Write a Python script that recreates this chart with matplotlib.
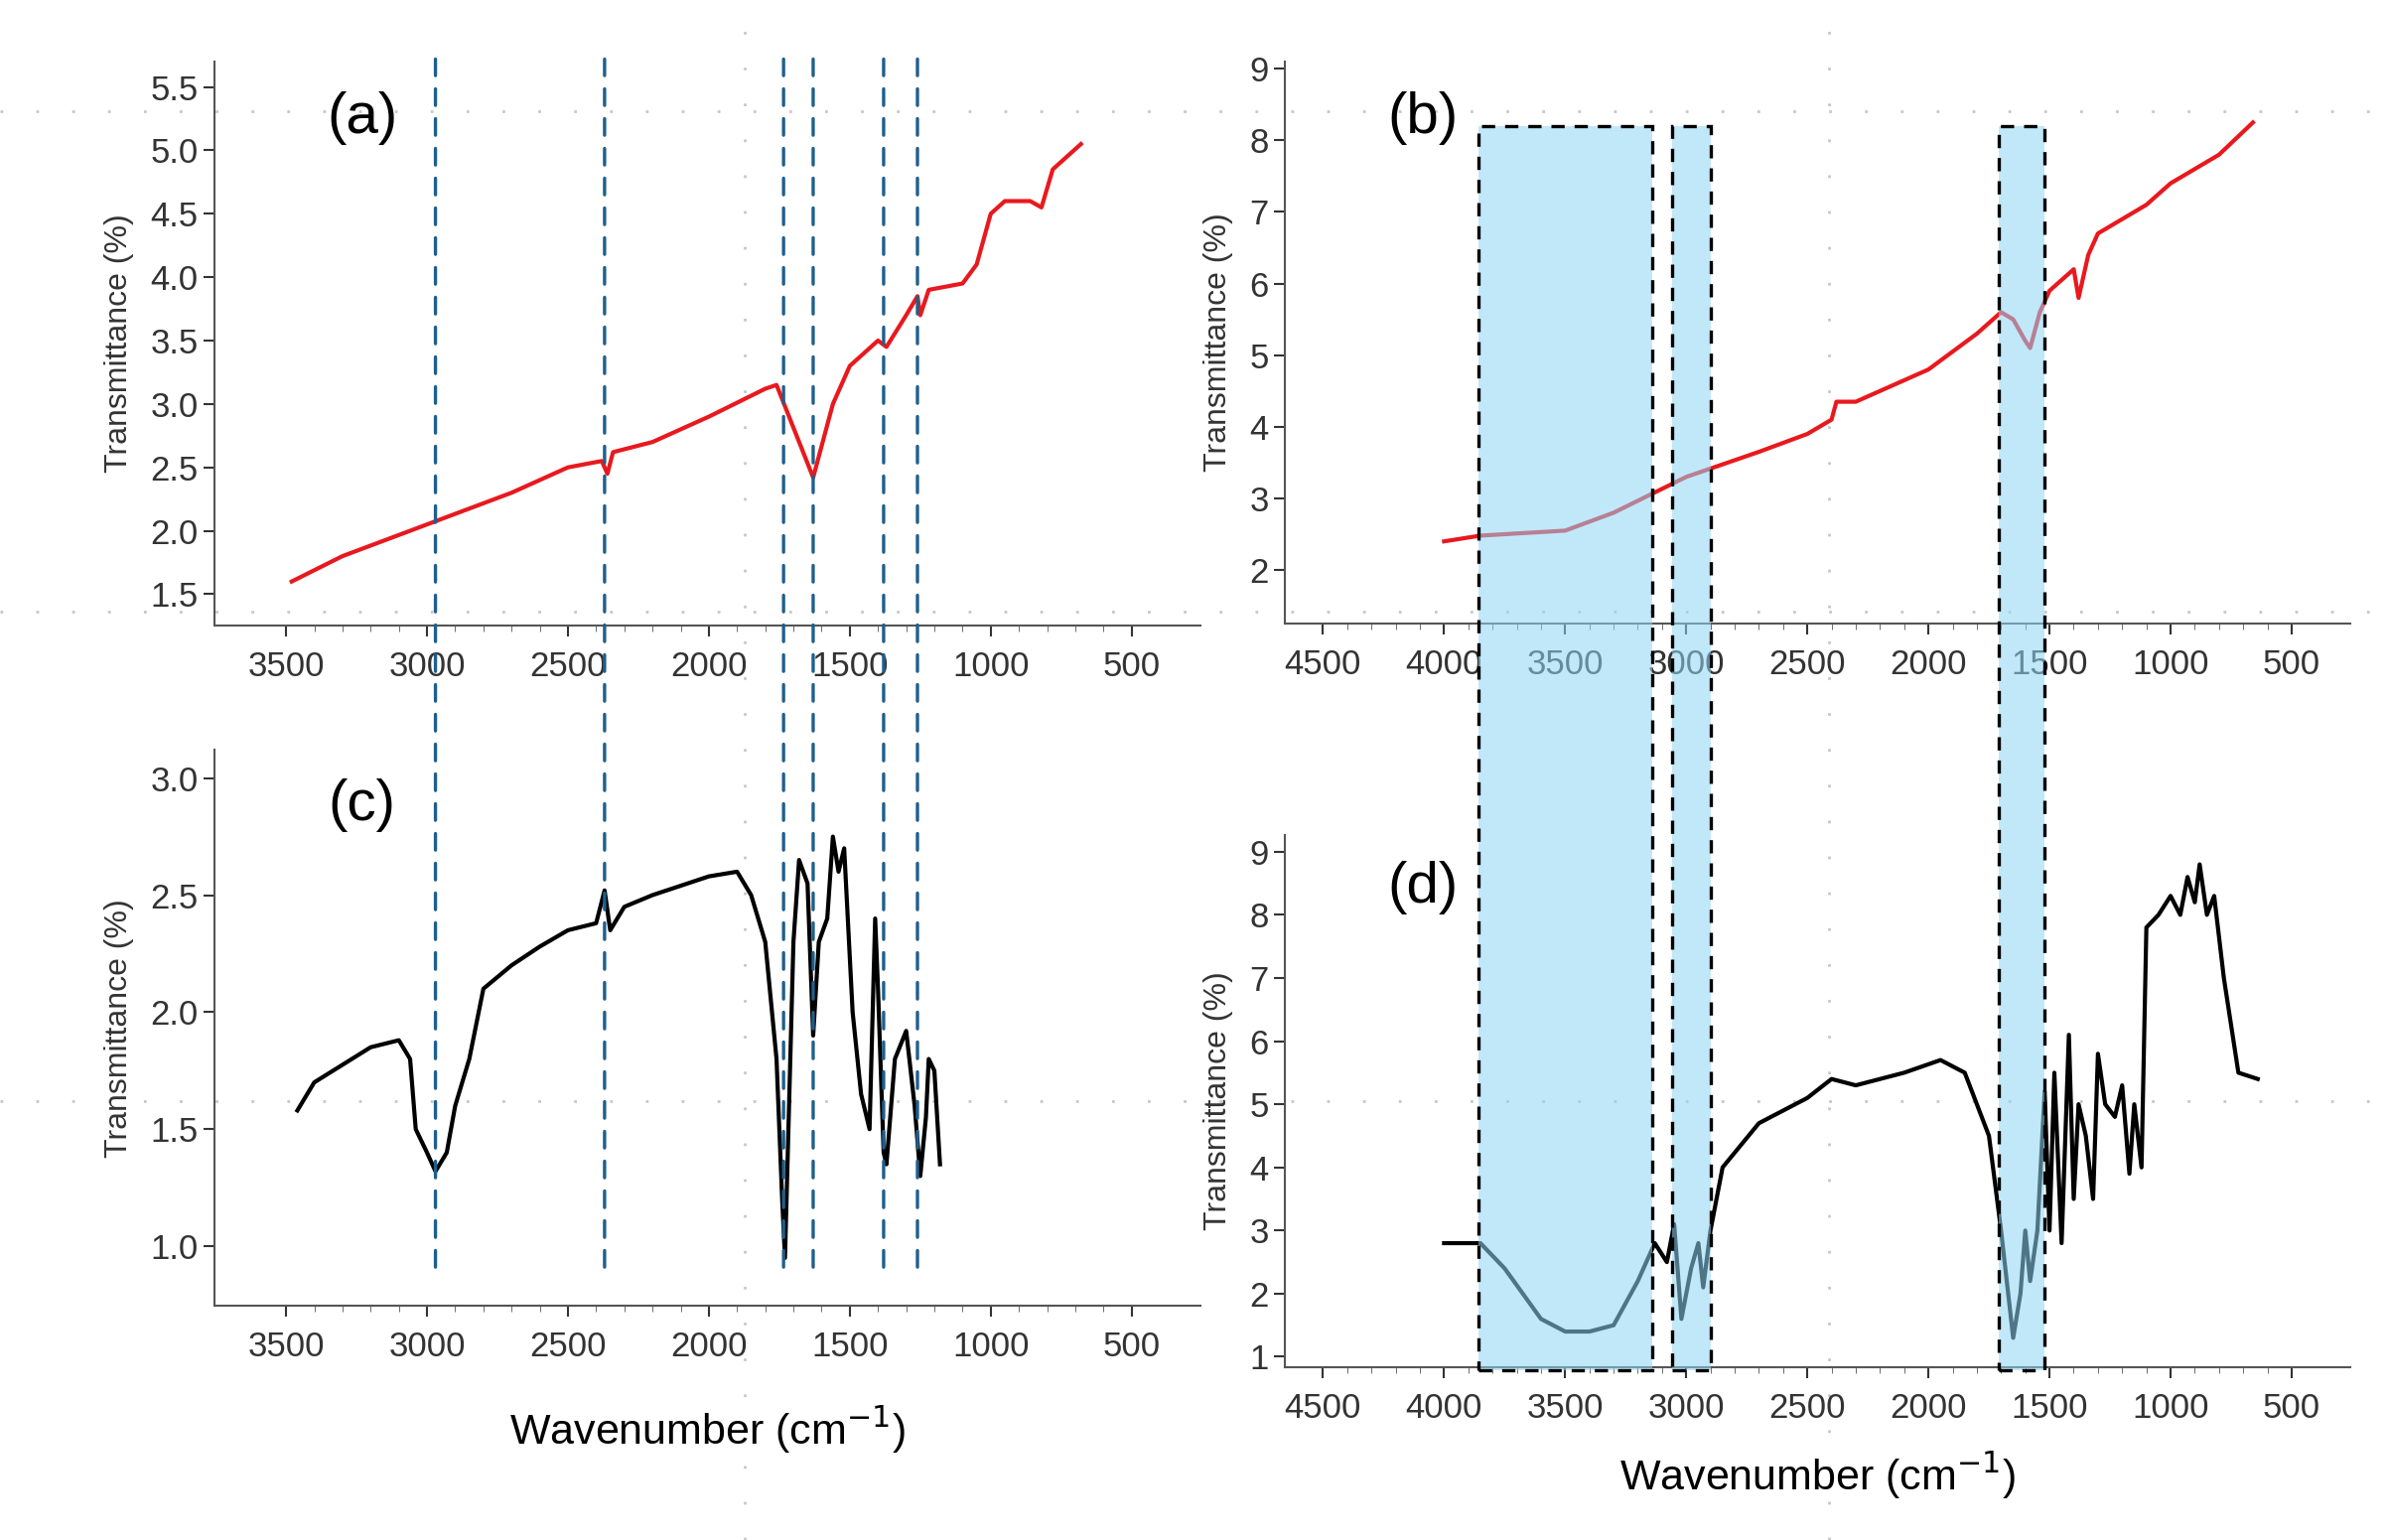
import numpy as np
import matplotlib
matplotlib.use("Agg")
import matplotlib.pyplot as plt
from matplotlib.patches import Rectangle, ConnectionPatch
from matplotlib.lines import Line2D

plt.rcParams['font.family'] = ['Liberation Sans Narrow', 'Liberation Sans', 'DejaVu Sans']

# (a) red spectrum
a_x = [3480, 3300, 3000, 2700, 2500, 2380, 2360, 2340, 2200, 2000, 1800, 1760, 1630, 1560, 1500,
       1400, 1370, 1300, 1260, 1250, 1220, 1100, 1050, 1000, 950, 860, 820, 780, 680]
a_y = [1.6, 1.8, 2.05, 2.3, 2.5, 2.55, 2.45, 2.62, 2.7, 2.9, 3.12, 3.15, 2.42, 3.0, 3.3,
       3.5, 3.45, 3.7, 3.85, 3.7, 3.9, 3.95, 4.1, 4.5, 4.6, 4.6, 4.55, 4.85, 5.05]
# (b) red spectrum
b_x = [4000, 3850, 3500, 3300, 3000, 2700, 2500, 2400, 2380, 2300, 2000, 1800, 1700, 1650, 1600,
       1580, 1540, 1500, 1400, 1380, 1340, 1300, 1200, 1100, 1000, 900, 800, 660]
b_y = [2.4, 2.48, 2.55, 2.8, 3.3, 3.65, 3.9, 4.1, 4.35, 4.35, 4.8, 5.3, 5.6, 5.5, 5.2,
       5.1, 5.6, 5.9, 6.2, 5.8, 6.4, 6.7, 6.9, 7.1, 7.4, 7.6, 7.8, 8.25]
# (c) black spectrum
c_x = [3460, 3400, 3200, 3100, 3060, 3040, 3000, 2970, 2930, 2900, 2850, 2800, 2700, 2600, 2500,
       2400, 2370, 2350, 2300, 2200, 2000, 1900, 1850, 1800, 1760, 1740, 1730, 1720, 1700, 1680,
       1650, 1630, 1610, 1580, 1560, 1540, 1520, 1490, 1460, 1430, 1410, 1400, 1380, 1370, 1340,
       1300, 1270, 1250, 1230, 1220, 1200, 1180]
c_y = [1.58, 1.7, 1.85, 1.88, 1.8, 1.5, 1.4, 1.32, 1.4, 1.6, 1.8, 2.1, 2.2, 2.28, 2.35,
       2.38, 2.52, 2.35, 2.45, 2.5, 2.58, 2.6, 2.5, 2.3, 1.8, 1.2, 0.95, 1.4, 2.3, 2.65,
       2.55, 1.9, 2.3, 2.4, 2.75, 2.6, 2.7, 2.0, 1.65, 1.5, 2.4, 2.1, 1.4, 1.35, 1.8,
       1.92, 1.6, 1.3, 1.55, 1.8, 1.75, 1.35]
# (d) black spectrum
d_x = [4000, 3850, 3750, 3600, 3500, 3400, 3300, 3200, 3130, 3080, 3050, 3020, 2980, 2950, 2930,
       2900, 2850, 2700, 2500, 2400, 2300, 2100, 1950, 1850, 1750, 1700, 1650, 1620, 1600, 1580,
       1550, 1520, 1500, 1480, 1450, 1420, 1400, 1380, 1350, 1320, 1300, 1270, 1230, 1200, 1170,
       1150, 1120, 1100, 1050, 1000, 960, 930, 900, 880, 850, 820, 780, 720, 640]
d_y = [2.8, 2.8, 2.4, 1.6, 1.4, 1.4, 1.5, 2.2, 2.8, 2.5, 3.1, 1.6, 2.4, 2.8, 2.1,
       3.0, 4.0, 4.7, 5.1, 5.4, 5.3, 5.5, 5.7, 5.5, 4.5, 3.0, 1.3, 2.0, 3.0, 2.2,
       3.0, 5.2, 3.0, 5.5, 2.8, 6.1, 3.5, 5.0, 4.5, 3.5, 5.8, 5.0, 4.8, 5.3, 3.9,
       5.0, 4.0, 7.8, 8.0, 8.3, 8.0, 8.6, 8.2, 8.8, 8.0, 8.3, 7.0, 5.5, 5.4]

dash_lines = [2970, 2370, 1735, 1630, 1380, 1260]
boxes = [(3860, 3140), (3060, 2900), (1710, 1520)]

fig = plt.figure(figsize=(24.05, 15.51), dpi=100)

# faint dotted background grid
for yy in [0.928, 0.603, 0.285]:
    fig.add_artist(Line2D([0, 1], [yy, yy], transform=fig.transFigure, color='#c8c8c8',
                          ls=(0, (1, 12)), lw=2, zorder=0))
for xx in [0.312, 0.766]:
    fig.add_artist(Line2D([xx, xx], [0, 1], transform=fig.transFigure, color='#c8c8c8',
                          ls=(0, (1, 12)), lw=2, zorder=0))

ax_a = fig.add_axes([0.0897, 0.594, 0.413, 0.366])
ax_c = fig.add_axes([0.0897, 0.152, 0.413, 0.361])
ax_b = fig.add_axes([0.538, 0.595, 0.446, 0.365])
ax_d = fig.add_axes([0.538, 0.112, 0.446, 0.346])

ax_a.plot(a_x, a_y, color='#e8191e', lw=3)
ax_b.plot(b_x, b_y, color='#e8191e', lw=3)
ax_c.plot(c_x, c_y, color='black', lw=3)
ax_d.plot(d_x, d_y, color='black', lw=3)

ax_a.set_xlim(3755, 256); ax_a.set_ylim(1.255, 5.7)
ax_c.set_xlim(3755, 256); ax_c.set_ylim(0.745, 3.12)
ax_b.set_xlim(4658, 260); ax_b.set_ylim(1.25, 9.1)
ax_d.set_xlim(4658, 260); ax_d.set_ylim(0.83, 9.27)

ax_a.set_yticks(np.arange(1.5, 5.51, 0.5))
ax_c.set_yticks(np.arange(1.0, 3.01, 0.5))
ax_b.set_yticks(range(2, 10))
ax_d.set_yticks(range(1, 10))
for ax in (ax_a, ax_c):
    ax.set_xticks(range(3500, 499, -500))
    ax.set_xticks(range(3500, 499, -100), minor=True)
for ax in (ax_b, ax_d):
    ax.set_xticks(range(4500, 499, -500))
    ax.set_xticks(range(4500, 499, -100), minor=True)

for ax, lab in [(ax_a, '(a)'), (ax_b, '(b)'), (ax_c, '(c)'), (ax_d, '(d)')]:
    for s in ['top', 'right']:
        ax.spines[s].set_visible(False)
    ax.spines['bottom'].set_color('#555555')
    ax.spines['left'].set_color('#555555')
    ax.spines['bottom'].set_linewidth(1.5)
    ax.spines['left'].set_linewidth(1.5)
    ax.patch.set_alpha(0)
    ax.tick_params(axis='both', labelsize=25, colors='#333333', width=1.5, length=8)
    ax.tick_params(axis='x', which='minor', length=4, color='#555555')
    ax.tick_params(axis='x', pad=10)
    ax.yaxis.set_major_formatter(plt.FormatStrFormatter('%.1f' if ax in (ax_a, ax_c) else '%d'))
    ax.set_ylabel('Transmittance (%)', fontsize=23, color='#333333', labelpad=12)
    ax.text(0.15 if ax in (ax_a, ax_c) else 0.13, 0.90, lab, transform=ax.transAxes,
            fontsize=42, ha='center', va='center', family=['Liberation Sans', 'DejaVu Sans'])

ax_c.set_xlabel('Wavenumber (cm$^{-1}$)', fontsize=31, labelpad=30)
ax_d.set_xlabel('Wavenumber (cm$^{-1}$)', fontsize=31, labelpad=18)

# dashed guide lines across (a) and (c)
for x in dash_lines:
    con = ConnectionPatch(xyA=(x, 5.72), coordsA=ax_a.transData,
                          xyB=(x, 0.89), coordsB=ax_c.transData,
                          color='#1f5f8b', ls=(0, (5, 4)), lw=2.4)
    fig.add_artist(con)

# highlighted boxes across (b) and (d)
inv = fig.transFigure.inverted()
for x0, x1 in boxes:
    p0 = inv.transform(ax_d.transData.transform((x0, 0.78)))
    p1 = inv.transform(ax_b.transData.transform((x1, 8.2)))
    fig.add_artist(Rectangle(p0, p1[0] - p0[0], p1[1] - p0[1], transform=fig.transFigure,
                             facecolor='#8fd6f5', alpha=0.55, edgecolor='none', zorder=5))
    fig.add_artist(Rectangle(p0, p1[0] - p0[0], p1[1] - p0[1], transform=fig.transFigure,
                             facecolor='none', edgecolor='black', ls=(0, (4, 3)), lw=2.4, zorder=6))

fig.savefig('out.png', dpi=100, facecolor='white')
